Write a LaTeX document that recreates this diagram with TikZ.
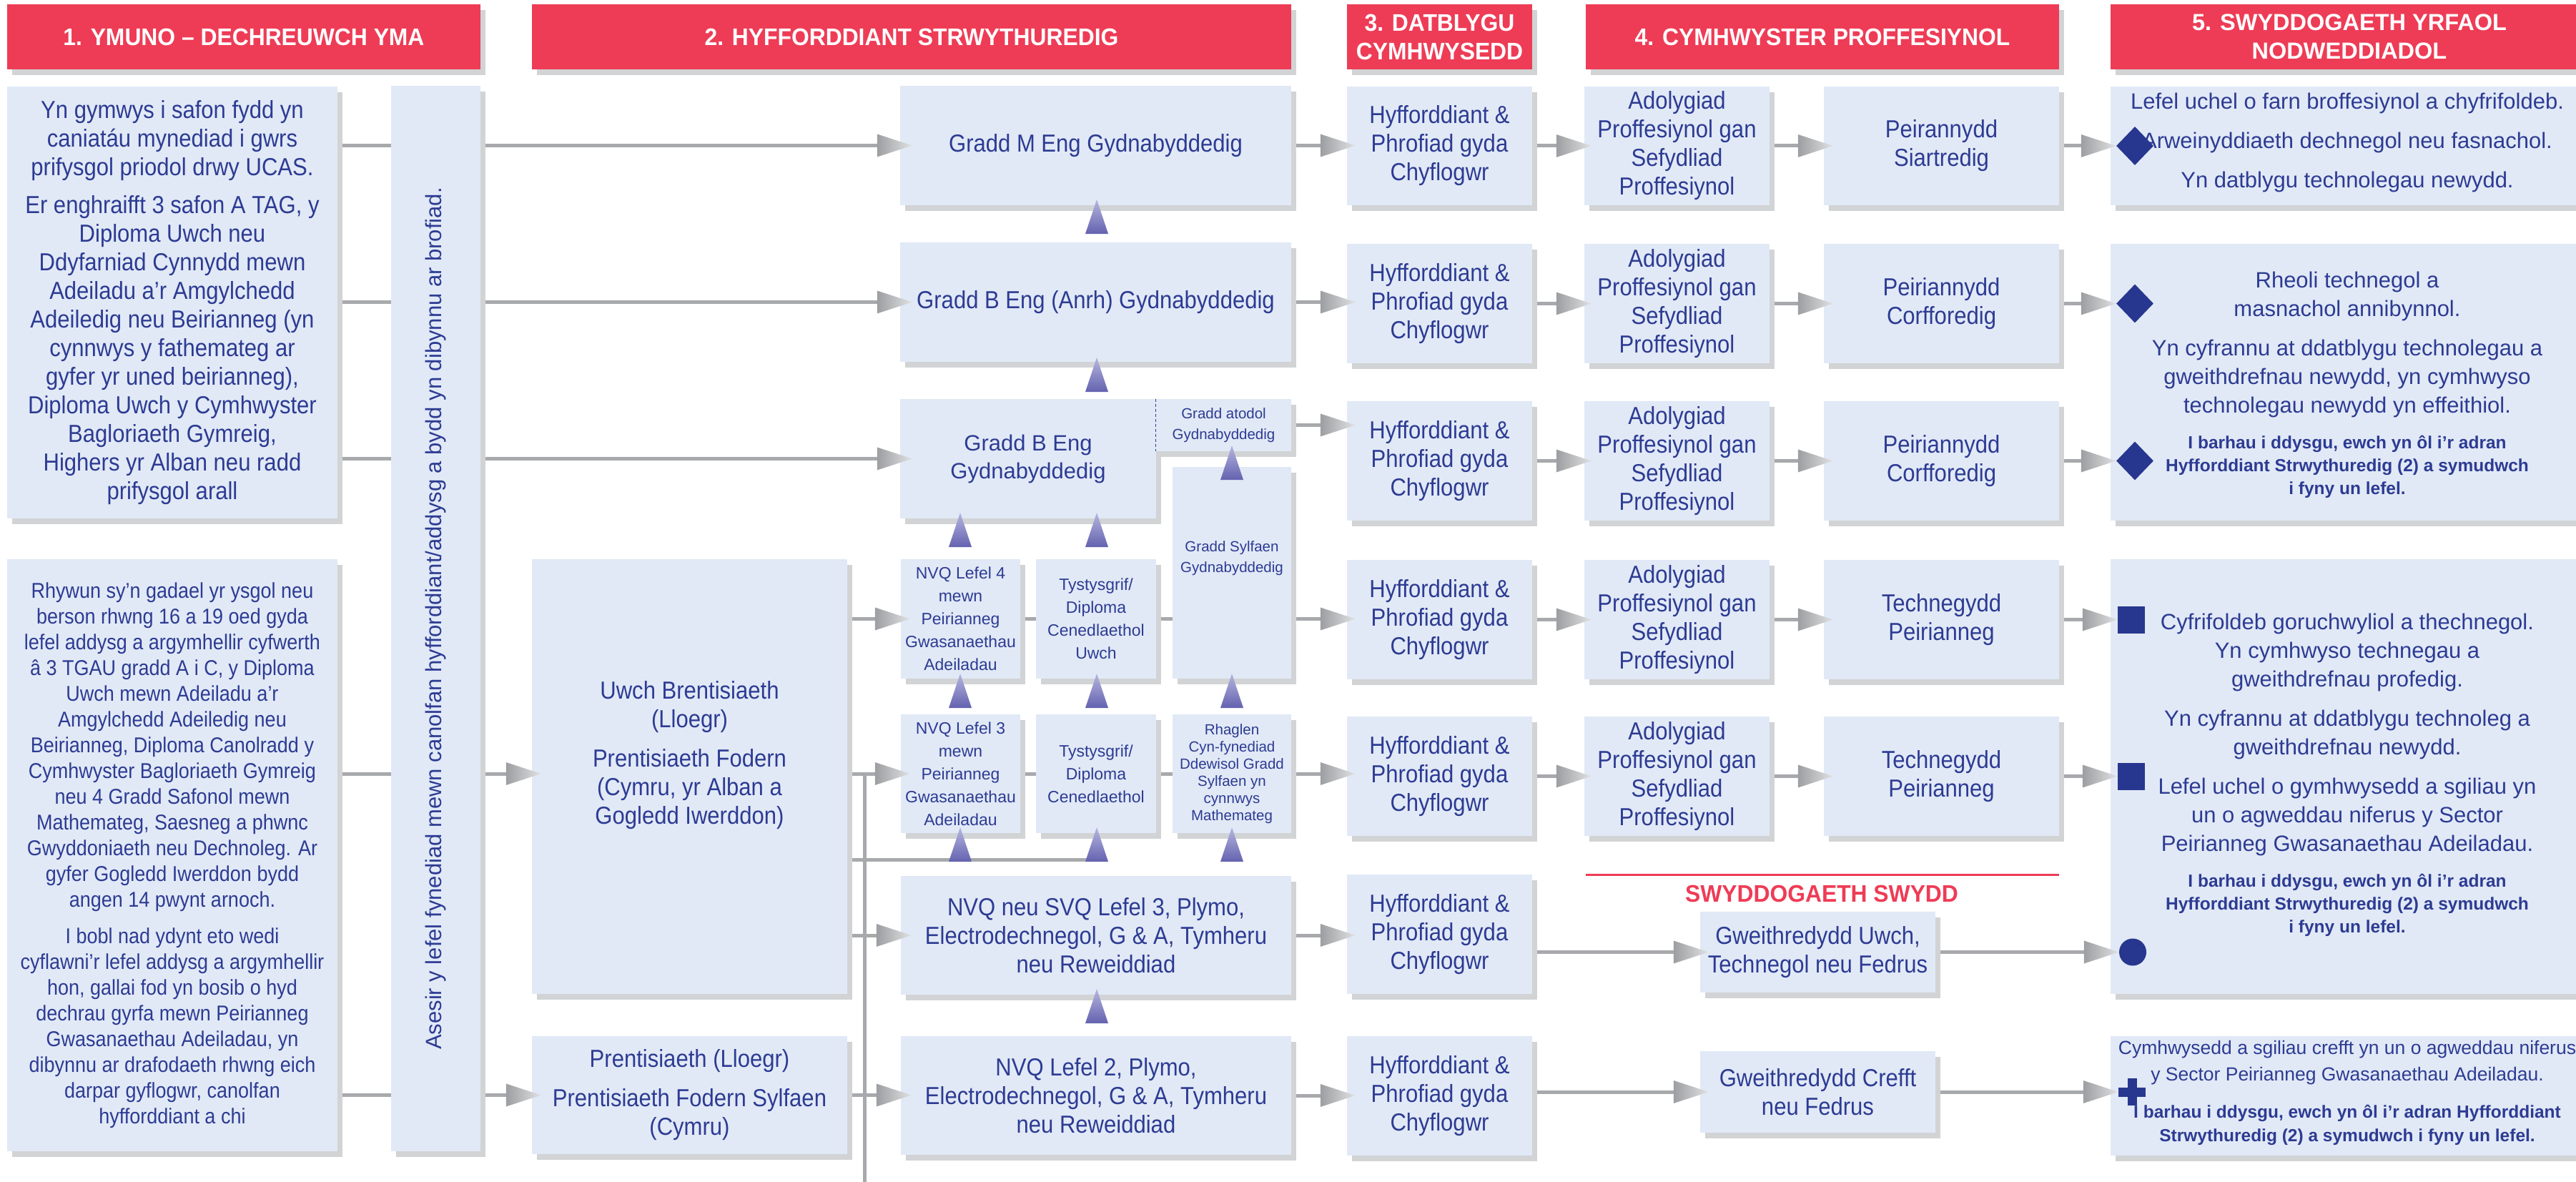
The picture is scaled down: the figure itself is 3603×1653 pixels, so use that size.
\documentclass[tikz,border=0pt]{standalone}
\usepackage{fontspec}
\setmainfont{Liberation Sans}
\newfontfamily\cnd[FakeStretch=0.9]{Liberation Sans}
\newfontfamily\hdr[FakeStretch=0.95]{Liberation Sans}
\usetikzlibrary{calc,shadows,shapes.geometric}
\definecolor{hred}{HTML}{EE3C56}
\definecolor{bfill}{HTML}{E1E9F6}
\definecolor{shd}{HTML}{D1D3D5}
\definecolor{tblue}{HTML}{2D3B93}
\definecolor{mblue}{HTML}{27378F}
\definecolor{cgrey}{HTML}{A7A9AC}
\definecolor{gdark}{HTML}{9C9EA1}
\definecolor{glight}{HTML}{E0E1E2}
\definecolor{plight}{HTML}{B6B5DF}
\definecolor{pdark}{HTML}{6362AF}
\pgfdeclarelayer{bg}
\pgfsetlayers{bg,main}
\newcommand\ftHead{\hdr\bfseries\fontsize{33.5}{40}\selectfont}
\newcommand\ftHeadW{\bfseries\fontsize{32.5}{40}\selectfont}
\newcommand\ftCond{\cnd\fontsize{34.5}{40}\selectfont}
\newcommand\ftCondS{\cnd\fontsize{30}{36}\selectfont}
\newcommand\ftReg{\fontsize{31}{40}\selectfont}
\newcommand\ftRegB{\fontsize{31}{39}\selectfont}
\newcommand\ftRegD{\fontsize{26.5}{37}\selectfont}
\newcommand\ftSm{\fontsize{23}{32}\selectfont}
\newcommand\ftXs{\fontsize{20.5}{29}\selectfont}
\newcommand\ftXxs{\fontsize{20.5}{24}\selectfont}
\newcommand\ftBold{\bfseries\fontsize{24.5}{32}\selectfont}
\newcommand\ftBoldD{\bfseries\fontsize{24.5}{33}\selectfont}
% box by corners: name, x1, y1, x2, y2, options
\newcommand\bx[6]{\node[#6,minimum width={#4-#2},minimum height={#5-#3}] (#1) at ({(#2+#4)/2},{(#3+#5)/2})}
% gradient arrow head with tip at named coordinate
\newcommand\gtip[1]{\shade[left color=gdark,right color=glight] ($(#1)+(-49,-16)$) -- (#1) -- ($(#1)+(-49,16)$) -- cycle;}
% connector from start coordinate #1 to node #2, tip overshoot #3
\newcommand\arr[3]{\coordinate (tp) at ($(#1 -| #2.west)+(#3,0)$);
  \begin{pgfonlayer}{bg}\draw[conn] (#1) -- ($(tp)+(-20,0)$);\end{pgfonlayer}
  \gtip{tp}}
% purple up triangle: centre x, tip y
\newcommand\ptri[2]{\shade[top color=plight,bottom color=pdark] (#1,#2) -- ({#1+16},{#2+48}) -- ({#1-16},{#2+48}) -- cycle;}
\begin{document}
\begin{tikzpicture}[x=1pt,y=-1pt,
  conn/.style={draw=cgrey,line width=5pt},
  shadowed/.style={drop shadow={shadow xshift=7pt,shadow yshift=-8pt,fill=shd,opacity=1}},
  box/.style={fill=bfill,draw=none,inner sep=0pt,align=center,text=tblue,shadowed},
  hdrbox/.style={fill=hred,draw=none,inner sep=0pt,align=center,text=white,shadowed},
  txt/.style={inner sep=0pt,align=center,text=tblue},
  mkr/.style={fill=mblue,draw=none,inner sep=0pt}]
\useasboundingbox (0,0) rectangle (3603,1653);
% headers
\bx{h1}{10}{6}{672}{97}{hdrbox,font=\ftHead} {1. YMUNO – DECHREUWCH YMA};
\bx{h2}{744}{6}{1806}{97}{hdrbox,font=\ftHead} {2. HYFFORDDIANT STRWYTHUREDIG};
\bx{h3}{1884}{6}{2143}{97}{hdrbox,font=\ftHead} {3. DATBLYGU\\CYMHWYSEDD};
\bx{h4}{2218}{6}{2880}{97}{hdrbox,font=\ftHead} {4. CYMHWYSTER PROFFESIYNOL};
\bx{h5}{2952}{6}{3620}{97}{hdrbox,font=\ftHeadW} {5. SWYDDOGAETH YRFAOL\\NODWEDDIADOL};
% column 1
\bx{c1a}{10}{121}{472}{725}{box,font=\ftCond} {Yn gymwys i safon fydd yn\\caniatáu mynediad i gwrs\\prifysgol priodol drwy UCAS.\\[13pt]Er enghraifft 3 safon A TAG, y\\Diploma Uwch neu\\Ddyfarniad Cynnydd mewn\\Adeiladu a’r Amgylchedd\\Adeiledig neu Beirianneg (yn\\cynnwys y fathemateg ar\\gyfer yr uned beirianneg),\\Diploma Uwch y Cymhwyster\\Bagloriaeth Gymreig,\\Highers yr Alban neu radd\\prifysgol arall};
\bx{c1b}{10}{782}{472}{1610}{box,font=\ftCondS} {Rhywun sy’n gadael yr ysgol neu\\berson rhwng 16 a 19 oed gyda\\lefel addysg a argymhellir cyfwerth\\â 3 TGAU gradd A i C, y Diploma\\Uwch mewn Adeiladu a’r\\Amgylchedd Adeiledig neu\\Beirianneg, Diploma Canolradd y\\Cymhwyster Bagloriaeth Gymreig\\neu 4 Gradd Safonol mewn\\Mathemateg, Saesneg a phwnc\\Gwyddoniaeth neu Dechnoleg. Ar\\gyfer Gogledd Iwerddon bydd\\angen 14 pwynt arnoch.\\[15pt]I bobl nad ydynt eto wedi\\cyflawni’r lefel addysg a argymhellir\\hon, gallai fod yn bosib o hyd\\dechrau gyrfa mewn Peirianneg\\Gwasanaethau Adeiladau, yn\\dibynnu ar drafodaeth rhwng eich\\darpar gyflogwr, canolfan\\hyfforddiant a chi};
\bx{bar}{547}{120}{672}{1610}{box} {};
\node[txt,rotate=90,font=\ftReg] (bartxt) at (bar.center) {Asesir y lefel fynediad mewn canolfan hyfforddiant/addysg a bydd yn dibynnu ar brofiad.};
% column 2
\bx{uwch}{744}{782}{1185}{1390}{box} {};
\node[txt,font=\ftCond] (uwcht) at (964.5,1056) {Uwch Brentisiaeth\\(Lloegr)\\[15pt]Prentisiaeth Fodern\\(Cymru, yr Alban a\\Gogledd Iwerddon)};
\bx{prent}{744}{1449}{1185}{1614}{box,font=\ftCond} {Prentisiaeth (Lloegr)\\[15pt]Prentisiaeth Fodern Sylfaen\\(Cymru)};
\bx{meng}{1259}{120}{1806}{287}{box,font=\ftCond} {Gradd M Eng Gydnabyddedig};
\bx{banrh}{1259}{339}{1806}{506}{box,font=\ftCond} {Gradd B Eng (Anrh) Gydnabyddedig};
\bx{beng}{1259}{558}{1617}{725}{box,font=\ftRegB} {Gradd B Eng\\Gydnabyddedig};
\bx{atod}{1617}{558}{1806}{631}{box,font=\ftXs} {Gradd atodol\\Gydnabyddedig};
\draw[tblue,line width=1.2pt,dash pattern=on 4pt off 3pt] (atod.north west) -- (atod.south west);
\bx{sylf}{1640}{653}{1806}{949}{box} {};
\node[txt,font=\ftXs] (sylft) at (1723,781) {Gradd Sylfaen\\Gydnabyddedig};
\bx{nvq4}{1260}{782}{1427}{949}{box,font=\ftSm} {NVQ Lefel 4\\mewn\\Peirianneg\\Gwasanaethau\\Adeiladau};
\bx{tystu}{1449}{782}{1617}{949}{box,font=\ftSm} {Tystysgrif/\\Diploma\\Cenedlaethol\\Uwch};
\bx{nvq3}{1260}{999}{1427}{1165}{box,font=\ftSm} {NVQ Lefel 3\\mewn\\Peirianneg\\Gwasanaethau\\Adeiladau};
\bx{tystc}{1449}{999}{1617}{1165}{box,font=\ftSm} {Tystysgrif/\\Diploma\\Cenedlaethol};
\bx{rhag}{1640}{999}{1806}{1165}{box,font=\ftXxs} {Rhaglen\\Cyn-fynediad\\Ddewisol Gradd\\Sylfaen yn\\cynnwys\\Mathemateg};
\bx{svq}{1260}{1225}{1806}{1391}{box,font=\ftCond} {NVQ neu SVQ Lefel 3, Plymo,\\Electrodechnegol, G \& A, Tymheru\\neu Reweiddiad};
\bx{l2}{1260}{1449}{1806}{1615}{box,font=\ftCond} {NVQ Lefel 2, Plymo,\\Electrodechnegol, G \& A, Tymheru\\neu Reweiddiad};
% column 3
\bx{hyff1}{1884}{121}{2143}{287}{box,font=\ftCond} {Hyfforddiant \&\\Phrofiad gyda\\Chyflogwr};
\bx{hyff2}{1884}{341}{2143}{508}{box,font=\ftCond} {Hyfforddiant \&\\Phrofiad gyda\\Chyflogwr};
\bx{hyff3}{1884}{561}{2143}{728}{box,font=\ftCond} {Hyfforddiant \&\\Phrofiad gyda\\Chyflogwr};
\bx{hyff4}{1884}{783}{2143}{950}{box,font=\ftCond} {Hyfforddiant \&\\Phrofiad gyda\\Chyflogwr};
\bx{hyff5}{1884}{1002}{2143}{1169}{box,font=\ftCond} {Hyfforddiant \&\\Phrofiad gyda\\Chyflogwr};
\bx{hyff6}{1884}{1223}{2143}{1390}{box,font=\ftCond} {Hyfforddiant \&\\Phrofiad gyda\\Chyflogwr};
\bx{hyff7}{1884}{1449}{2143}{1616}{box,font=\ftCond} {Hyfforddiant \&\\Phrofiad gyda\\Chyflogwr};
% column 4
\bx{adol1}{2216}{121}{2475}{287}{box,font=\ftCond} {Adolygiad\\Proffesiynol gan\\Sefydliad\\Proffesiynol};
\bx{adol2}{2216}{341}{2475}{508}{box,font=\ftCond} {Adolygiad\\Proffesiynol gan\\Sefydliad\\Proffesiynol};
\bx{adol3}{2216}{561}{2475}{728}{box,font=\ftCond} {Adolygiad\\Proffesiynol gan\\Sefydliad\\Proffesiynol};
\bx{adol4}{2216}{783}{2475}{950}{box,font=\ftCond} {Adolygiad\\Proffesiynol gan\\Sefydliad\\Proffesiynol};
\bx{adol5}{2216}{1002}{2475}{1169}{box,font=\ftCond} {Adolygiad\\Proffesiynol gan\\Sefydliad\\Proffesiynol};
\bx{peir1}{2551}{121}{2880}{287}{box,font=\ftCond} {Peirannydd\\Siartredig};
\bx{peir2}{2551}{341}{2880}{508}{box,font=\ftCond} {Peiriannydd\\Corfforedig};
\bx{peir3}{2551}{561}{2880}{728}{box,font=\ftCond} {Peiriannydd\\Corfforedig};
\bx{peir4}{2551}{783}{2880}{950}{box,font=\ftCond} {Technegydd\\Peirianneg};
\bx{peir5}{2551}{1002}{2880}{1169}{box,font=\ftCond} {Technegydd\\Peirianneg};
\draw[hred,line width=3pt] (2218,1223) -- (2880,1223);
\node[font=\ftHead,text=hred,inner sep=0pt] (swt) at (2548,1250) {SWYDDOGAETH SWYDD};
\bx{gwu}{2378}{1275}{2707}{1388}{box,font=\ftCond} {Gweithredydd Uwch,\\Technegol neu Fedrus};
\bx{gwc}{2378}{1470}{2707}{1584}{box,font=\ftCond} {Gweithredydd Crefft\\neu Fedrus};
% column 5
\bx{b5a}{2952}{121}{3620}{287}{box} {};
\bx{b5b}{2952}{341}{3620}{728}{box} {};
\bx{b5c}{2952}{782}{3620}{1390}{box} {};
\bx{b5d}{2952}{1449}{3620}{1616}{box} {};
\node[txt,font=\ftReg] (t5a) at (3283,199) {Lefel uchel o farn broffesiynol a chyfrifoldeb.\\[15pt]Arweinyddiaeth dechnegol neu fasnachol.\\[15pt]Yn datblygu technolegau newydd.};
\node[txt,font=\ftReg] (t5b1) at (3283,482) {Rheoli technegol a\\masnachol annibynnol.\\[15pt]Yn cyfrannu at ddatblygu technolegau a\\gweithdrefnau newydd, yn cymhwyso\\technolegau newydd yn effeithiol.};
\node[txt,font=\ftBold] (t5b2) at (3283,653) {I barhau i ddysgu, ewch yn ôl i’r adran\\Hyfforddiant Strwythuredig (2) a symudwch\\i fyny un lefel.};
\node[txt,font=\ftReg] (t5c1) at (3283,1027) {Cyfrifoldeb goruchwyliol a thechnegol.\\Yn cymhwyso technegau a\\gweithdrefnau profedig.\\[15pt]Yn cyfrannu at ddatblygu technoleg a\\gweithdrefnau newydd.\\[15pt]Lefel uchel o gymhwysedd a sgiliau yn\\un o agweddau niferus y Sector\\Peirianneg Gwasanaethau Adeiladau.};
\node[txt,font=\ftBold] (t5c2) at (3283,1266) {I barhau i ddysgu, ewch yn ôl i’r adran\\Hyfforddiant Strwythuredig (2) a symudwch\\i fyny un lefel.};
\node[txt,font=\ftRegD] (t5d1) at (3283,1486) {Cymhwysedd a sgiliau crefft yn un o agweddau niferus\\y Sector Peirianneg Gwasanaethau Adeiladau.};
\node[txt,font=\ftBoldD] (t5d2) at (3283,1573) {I barhau i ddysgu, ewch yn ôl i’r adran Hyfforddiant\\Strwythuredig (2) a symudwch i fyny un lefel.};
% markers
\node[mkr,diamond,minimum width=52,minimum height=54] (m1) at (2986,204) {};
\node[mkr,diamond,minimum width=52,minimum height=54] (m2) at (2986,424.5) {};
\node[mkr,diamond,minimum width=52,minimum height=54] (m3) at (2986,644.5) {};
\node[mkr,minimum width=38,minimum height=38] (q1) at (2981,866.5) {};
\node[mkr,minimum width=38,minimum height=38] (q2) at (2981,1085.5) {};
\node[mkr,circle,minimum size=38] (ci) at (2983,1331.5) {};
\node[mkr,minimum width=38,minimum height=13] (pl) at (2982,1527) {};
\node[mkr,minimum width=13,minimum height=38] (plv) at (2982,1527) {};
% connectors column 1 -> 2
\coordinate (s) at (c1a.east |- meng.west); \arr{s}{meng}{17}
\coordinate (s) at (c1a.east |- banrh.west); \arr{s}{banrh}{17}
\coordinate (s) at (c1a.east |- beng.west); \arr{s}{beng}{17}
\coordinate (s) at (c1b.east |- nvq3.west); \arr{s}{uwch}{13}
\coordinate (s) at (c1b.east |- prent.west); \arr{s}{prent}{13}
% within column 2
\coordinate (s) at (uwch.east |- nvq4.west); \arr{s}{nvq4}{13}
\coordinate (s) at (uwch.east |- nvq3.west); \arr{s}{nvq3}{13}
\coordinate (s) at (uwch.east |- svq.west); \arr{s}{svq}{15}
\arr{prent.east}{l2}{15}
\coordinate (vt) at (1209,1082);
\coordinate (vb) at (1209,1665);
\coordinate (hl) at (1534,1202);
\begin{pgfonlayer}{bg}
\draw[conn] (vt) -- (vb);
\draw[conn] (uwch.east |- hl) -- (hl);
\draw[conn] (nvq4.east) -- (tystu.west);
\draw[conn] (tystu.east) -- (tystu.east -| sylf.west);
\draw[conn] (nvq3.east) -- (tystc.west);
\draw[conn] (tystc.east) -- (rhag.west);
\end{pgfonlayer}
% column 2 -> 3
\arr{meng.east}{hyff1}{12}
\arr{banrh.east}{hyff2}{12}
\arr{atod.east}{hyff3}{12}
\coordinate (s) at (sylf.east |- nvq4.east); \arr{s}{hyff4}{12}
\arr{rhag.east}{hyff5}{12}
\arr{svq.east}{hyff6}{12}
\arr{l2.east}{hyff7}{12}
% column 3 -> 4
\arr{hyff1.east}{adol1}{10}
\arr{hyff2.east}{adol2}{10}
\arr{hyff3.east}{adol3}{10}
\arr{hyff4.east}{adol4}{10}
\arr{hyff5.east}{adol5}{10}
\arr{adol1.east}{peir1}{13}
\arr{adol2.east}{peir2}{13}
\arr{adol3.east}{peir3}{13}
\arr{adol4.east}{peir4}{13}
\arr{adol5.east}{peir5}{13}
\coordinate (s) at (hyff6.east |- gwu.west); \arr{s}{gwu}{12}
\coordinate (s) at (hyff7.east |- gwc.west); \arr{s}{gwc}{12}
% column 4 -> 5
\arr{peir1.east}{m1}{0}
\arr{peir2.east}{m2}{0}
\arr{peir3.east}{m3}{0}
\arr{peir4.east}{q1}{0}
\arr{peir5.east}{q2}{0}
\arr{gwu.east}{ci}{0}
\arr{gwc.east}{pl}{0}
% purple progression triangles
\ptri{1534}{279}
\ptri{1534}{500}
\ptri{1343}{717}
\ptri{1534}{717}
\ptri{1723}{623}
\ptri{1343}{942}
\ptri{1534}{942}
\ptri{1723}{942}
\ptri{1343}{1157}
\ptri{1534}{1157}
\ptri{1723}{1157}
\ptri{1534}{1383}
\end{tikzpicture}
\end{document}
